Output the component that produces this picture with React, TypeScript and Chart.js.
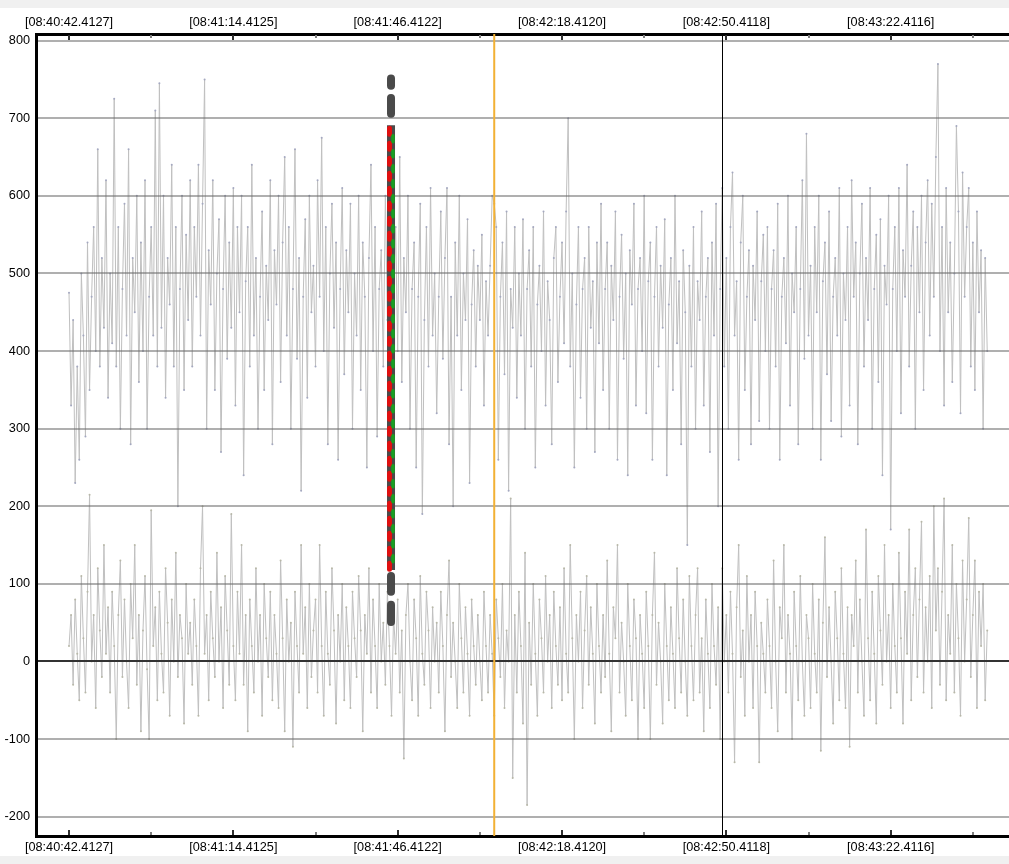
import { useEffect, useRef } from "react";
import { Chart, registerables } from "chart.js";

Chart.register(...registerables);

// Sample spacing (seconds) of both recorded signals, starting at 08:40:42.4127
const SAMPLE_INTERVAL_S = 0.4;

// Upper trace
const UPPER_VALUES = [
  475, 330, 440, 230, 380, 260, 500, 420, 290, 540, 350, 470, 560, 400, 660, 380, 520, 430, 620, 340,
  500, 410, 725, 380, 560, 300, 480, 590, 420, 660, 280, 520, 450, 600, 360, 540, 400, 620, 300, 470,
  560, 420, 710, 380, 745, 430, 600, 340, 520, 460, 640, 380, 560, 200, 480, 600, 350, 550, 440, 620,
  380, 560, 470, 640, 420, 590, 750, 300, 530, 460, 620, 350, 500, 570, 270, 480, 600, 390, 540, 430,
  610, 330, 560, 450, 600, 240, 490, 560, 380, 640, 420, 520, 300, 470, 580, 350, 510, 440, 620, 280,
  530, 460, 600, 360, 540, 650, 420, 560, 300, 480, 660, 390, 520, 220, 470, 570, 340, 600, 450, 510,
  380, 620, 470, 675, 400, 560, 280, 500, 590, 430, 540, 260, 480, 610, 370, 530, 450, 590, 300, 500,
  420, 600, 350, 540, 470, 250, 520, 640, 400, 560, 290, 480, 530, 380, 600, 440, 510, 330, 470, 560,
  400, 650, 360, 520, 450, 600, 300, 480, 540, 250, 470, 590, 190, 440, 560, 380, 610, 420, 500, 320,
  470, 580, 390, 520, 610, 280, 470, 200, 540, 420, 600, 350, 500, 440, 570, 230, 460, 530, 380, 510,
  440, 550, 330, 490, 420, 510, 600, 590, 560, 260, 470, 540, 370, 580, 220, 480, 430, 560, 340, 500,
  420, 570, 300, 480, 530, 380, 560, 250, 460, 510, 400, 580, 330, 490, 440, 280, 520, 560, 360, 470,
  540, 410, 580, 700, 380, 500, 250, 460, 560, 340, 480, 520, 300, 560, 430, 490, 270, 540, 410, 590,
  350, 480, 540, 300, 510, 440, 580, 260, 470, 550, 390, 500, 240, 530, 460, 590, 330, 480, 520, 400,
  600, 320, 490, 540, 260, 470, 560, 380, 510, 430, 570, 240, 460, 520, 350, 600, 410, 490, 280, 530,
  450, 150, 510, 380, 560, 300, 490, 440, 580, 330, 470, 520, 270, 540, 420, 590, 200, 480, 610, 380,
  520, 300, 560, 630, 420, 490, 260, 540, 600, 350, 470, 530, 280, 510, 440, 580, 310, 490, 550, 400,
  560, 300, 480, 530, 380, 590, 260, 470, 520, 410, 600, 330, 500, 450, 560, 280, 480, 620, 390, 680,
  420, 510, 300, 560, 450, 600, 260, 490, 540, 370, 580, 310, 470, 520, 420, 610, 290, 500, 440, 560,
  330, 620, 470, 540, 280, 500, 590, 380, 520, 440, 610, 300, 480, 550, 360, 570, 240, 510, 460, 600,
  170, 480, 560, 400, 610, 320, 530, 470, 640, 380, 510, 580, 300, 560, 450, 600, 350, 540, 620, 420,
  590, 470, 650, 770, 400, 560, 330, 610, 450, 540, 360, 500, 690, 580, 320, 630, 470, 560, 610, 380,
  540, 350, 580, 450, 530, 300, 520, 400,
];

// Lower trace
const LOWER_VALUES = [
  20, 60, -30, 80, 10, -50, 110, 30, -40, 90, 215, 0, 60, -60, 120, 40, -20, 150, 10, 70,
  -40, 90, 20, -100, 60, 130, -20, 80, 0, -60, 100, 30, 150, -30, 60, -90, 40, 110, -10, -100,
  195, 20, 70, -50, 90, 10, -40, 120, 50, -70, 80, 0, 140, -20, 60, 30, -80, 100, 10, 50,
  -30, 80, 20, -70, 120, 200, 10, 60, -50, 90, 30, -20, 140, 0, 70, -60, 110, 40, -30, 190,
  20, -50, 90, 10, 150, -30, 60, -90, 80, 20, -40, 120, 0, 60, -70, 100, 30, -20, 90, -50,
  60, 10, -60, 130, 30, -90, 80, 0, 50, -110, 90, 20, -40, 150, 10, 70, -60, 100, -20, 40,
  80, -40, 150, 20, -70, 90, 10, -30, 120, 40, -80, 60, 0, 100, -50, 70, 20, -60, 90, 30,
  -20, 110, 40, -90, 60, 10, 120, -40, 80, 20, -60, 100, 0, 50, -30, 90, 20, -70, 60, 10,
  80, -40, 40, -125, 60, 100, 0, -50, 80, 30, -70, 110, 10, -30, 90, 40, -60, 70, 0, 50,
  -40, 90, 20, -90, 60, 130, -20, 50, 0, -60, 100, 30, -40, 70, 10, -70, 80, 20, -30, 60,
  0, -50, 90, 20, -40, 60, 10, -70, 80, 30, -20, 100, -60, 40, 0, 210, -150, 60, -40, 90,
  20, -80, 140, -185, 50, -30, 100, 10, -70, 80, 30, -40, 110, 0, 60, -60, 90, 20, -30, 70,
  -50, 120, 10, -40, 150, 30, -100, 60, 0, 90, -60, 40, 110, -30, 70, 10, -80, 100, 20, -40,
  60, -20, 130, 10, -90, 70, 30, 150, -40, 50, 0, -70, 100, 20, -50, 80, 30, -100, 60, 10,
  -60, 90, 20, -100, 60, 140, -30, 50, 0, -80, 100, 20, -50, 70, 10, -60, 120, 30, -40, 80,
  0, -70, 110, 20, -50, 60, 120, -40, 30, -90, 80, 10, -60, 100, 20, -30, 70, -100, 120, 0,
  60, -40, 90, 10, -130, 70, 150, -20, 40, -70, 110, 0, 60, -60, 90, 20, -130, 50, 10, -40,
  80, 20, -60, 130, 0, -90, 70, 30, 150, -40, 60, 10, -100, 90, 20, -50, 110, 0, -70, 60,
  30, -60, 100, 10, -40, 80, -115, 50, 160, -20, 70, 0, -80, 90, 30, -50, 120, 10, -60, 70,
  -110, 60, 20, 130, -40, 80, 0, -70, 170, 30, -50, 90, 10, -80, 110, 40, -30, 150, 0, 60,
  -60, 100, 20, -40, 140, 30, -80, 90, 10, 170, -50, 60, 120, -20, 80, 180, -40, 70, 0, 110,
  -60, 200, 40, 120, -30, 90, 210, -50, 60, 10, 150, -40, 100, 30, -70, 130, 0, 80, 185, -20,
  60, 130, -60, 90, 20, 100, -50, 40,
];

// Axis ticks (seconds after 08:40:42.4127)
const X_TICK_VALUES = [0, 32, 64, 96, 128, 160];
const X_TICK_LABELS = [
  "[08:40:42.4127]",
  "[08:41:14.4125]",
  "[08:41:46.4122]",
  "[08:42:18.4120]",
  "[08:42:50.4118]",
  "[08:43:22.4116]",
];
const X_MINOR_TICK_VALUES = [16, 48, 80, 112, 144, 176];
const Y_TICK_VALUES = [-200, -100, 0, 100, 200, 300, 400, 500, 600, 700, 800];

const X_MIN = -6.43;
const X_MAX = 183.04;
const Y_MIN = -224.9;
const Y_MAX = 808.6;

// Cursors / marker (time in seconds, value ranges)
const CURSOR_ORANGE_T = 82.8;
const CURSOR_BLACK_T = 127.2;
const MARKER_T = 62.7;
const MARKER_DARK_SEGMENTS: [number, number][] = [
  [755, 738],
  [730, 702],
  [114, 86],
  [77, 47],
];
const MARKER_COLOR_RANGE: [number, number] = [691, 118];

const FONT = { family: "'Liberation Sans', Arial, sans-serif", size: 12.7 };

const backgroundPlugin = {
  id: "bg",
  beforeDraw(chart: any) {
    const { ctx, width, height } = chart;
    ctx.save();
    ctx.fillStyle = "#f0f0f0";
    ctx.fillRect(0, 0, width, height);
    ctx.fillStyle = "#ffffff";
    ctx.fillRect(0, 8, width, height - 16);
    ctx.restore();
  },
};

const overlayPlugin = {
  id: "overlay",
  afterDraw(chart: any) {
    const { ctx, chartArea } = chart;
    const xs = chart.scales.x;
    const ys = chart.scales.y;
    ctx.save();
    // tick marks inside the plot frame
    const drawTick = (v: number, len: number, w: number, color: string) => {
      const px = Math.round(xs.getPixelForValue(v));
      ctx.fillStyle = color;
      ctx.fillRect(px - w / 2, chartArea.top + 1, w, len);
      ctx.fillRect(px - w / 2, chartArea.bottom - 1 - len, w, len);
    };
    X_TICK_VALUES.forEach((v) => drawTick(v, 5, 2, "#303030"));
    X_MINOR_TICK_VALUES.forEach((v) => drawTick(v, 3, 2, "#808080"));

    ctx.beginPath();
    ctx.rect(chartArea.left + 1, chartArea.top - 2, chartArea.right - chartArea.left, chartArea.bottom - chartArea.top + 4);
    ctx.clip();

    // orange cursor
    let px = xs.getPixelForValue(CURSOR_ORANGE_T);
    ctx.strokeStyle = "#f2b135";
    ctx.lineWidth = 2;
    ctx.beginPath();
    ctx.moveTo(px, chartArea.top);
    ctx.lineTo(px, chartArea.bottom);
    ctx.stroke();

    // black cursor
    px = Math.round(xs.getPixelForValue(CURSOR_BLACK_T)) + 0.5;
    ctx.strokeStyle = "#000000";
    ctx.lineWidth = 1;
    ctx.beginPath();
    ctx.moveTo(px, chartArea.top);
    ctx.lineTo(px, chartArea.bottom);
    ctx.stroke();

    // marker
    const mx = xs.getPixelForValue(MARKER_T);
    ctx.strokeStyle = "#4a4a4a";
    ctx.lineWidth = 8;
    ctx.lineCap = "round";
    MARKER_DARK_SEGMENTS.forEach(([a, b]) => {
      ctx.beginPath();
      ctx.moveTo(mx, ys.getPixelForValue(a) + 3);
      ctx.lineTo(mx, ys.getPixelForValue(b) - 3);
      ctx.stroke();
    });
    const y1 = ys.getPixelForValue(MARKER_COLOR_RANGE[0]);
    const y2 = ys.getPixelForValue(MARKER_COLOR_RANGE[1]);
    ctx.lineCap = "butt";
    ctx.beginPath();
    ctx.moveTo(mx, y1);
    ctx.lineTo(mx, y2);
    ctx.stroke();
    ctx.lineCap = "round";
    ctx.strokeStyle = "#e01010";
    ctx.lineWidth = 5;
    ctx.setLineDash([6, 9]);
    ctx.beginPath();
    ctx.moveTo(mx - 1.5, y1 + 3);
    ctx.lineTo(mx - 1.5, y2);
    ctx.stroke();
    ctx.strokeStyle = "#18a020";
    ctx.lineWidth = 3.5;
    ctx.lineDashOffset = -7.5;
    ctx.beginPath();
    ctx.moveTo(mx + 2, y1 + 3);
    ctx.lineTo(mx + 2, y2);
    ctx.stroke();
    ctx.restore();
  },
};

export default function App() {
  const canvasRef = useRef<HTMLCanvasElement | null>(null);

  useEffect(() => {
    const canvas = canvasRef.current;
    if (!canvas) return;
    const toPoints = (vals: number[]) => vals.map((v, i) => ({ x: i * SAMPLE_INTERVAL_S, y: v }));
    const xTickCallback = (value: any) => {
      const i = X_TICK_VALUES.indexOf(Number(value));
      return i >= 0 ? X_TICK_LABELS[i] : "";
    };
    const setXTicks = (scale: any) => {
      scale.ticks = X_TICK_VALUES.map((v) => ({ value: v }));
    };
    const xCommon = {
      type: "linear" as const,
      min: X_MIN,
      max: X_MAX,
      afterBuildTicks: setXTicks,
      grid: { drawOnChartArea: false, drawTicks: false },
      border: { display: true, color: "#000000", width: 3 },
      ticks: {
        autoSkip: false,
        maxRotation: 0,
        minRotation: 0,
        callback: xTickCallback,
        padding: 4,
        font: FONT,
        color: "#000000",
      },
    };
    const chart = new Chart(canvas, {
      type: "line",
      data: {
        datasets: [
          {
            label: "upper",
            data: toPoints(UPPER_VALUES),
            borderColor: "#c0c0c0",
            borderWidth: 1,
            pointRadius: 1,
            pointHoverRadius: 1,
            pointBorderWidth: 0,
            pointBackgroundColor: "#a4a8c0",
            tension: 0,
            xAxisID: "x",
            yAxisID: "y",
          },
          {
            label: "lower",
            data: toPoints(LOWER_VALUES),
            borderColor: "#c0c0c0",
            borderWidth: 1,
            pointRadius: 1,
            pointHoverRadius: 1,
            pointBorderWidth: 0,
            pointBackgroundColor: "#b8b8a8",
            tension: 0,
            xAxisID: "x",
            yAxisID: "y",
          },
        ],
      },
      options: {
        responsive: false,
        animation: false,
        devicePixelRatio: 1,
        layout: { padding: 0, autoPadding: false },
        plugins: { legend: { display: false }, tooltip: { enabled: false } },
        scales: {
          x: {
            ...xCommon,
            position: "bottom",
            afterFit: (s: any) => {
              s.height = 28;
              s.paddingLeft = 0;
              s.paddingRight = 0;
            },
          },
          x2: {
            ...xCommon,
            position: "top",
            afterFit: (s: any) => {
              s.height = 34;
              s.paddingLeft = 0;
              s.paddingRight = 0;
            },
          },
          y: {
            type: "linear",
            min: Y_MIN,
            max: Y_MAX,
            afterBuildTicks: (scale: any) => {
              scale.ticks = Y_TICK_VALUES.map((v) => ({ value: v }));
            },
            afterFit: (s: any) => {
              s.width = 36;
            },
            grid: {
              drawTicks: false,
              z: 1,
              color: (c: any) => (c.tick && c.tick.value === 0 ? "#333333" : "rgba(110,110,110,0.55)"),
              lineWidth: 2,
            },
            border: { display: true, color: "#000000", width: 3, z: 1 },
            ticks: { padding: 6, font: FONT, color: "#000000" },
          },
        },
      },
      plugins: [backgroundPlugin, overlayPlugin],
    } as any);
    return () => chart.destroy();
  }, []);

  return (
    <div style={{ position: "absolute", left: 0, top: 0, width: 1009, height: 864 }}>
      <canvas ref={canvasRef} width={1009} height={864} style={{ display: "block" }} />
    </div>
  );
}
